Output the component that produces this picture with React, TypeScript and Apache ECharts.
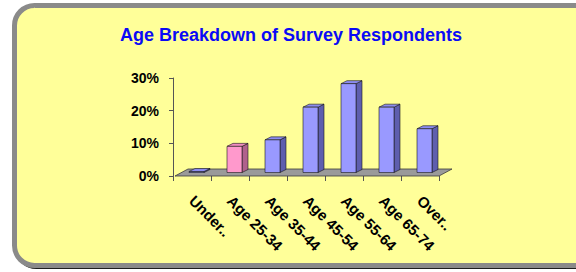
import React, { useEffect, useRef } from "react";
import * as echarts from "echarts";

const titleText = "Age Breakdown of Survey Respondents";
const categories = ["Under..", "Age 25-34", "Age 35-44", "Age 45-54", "Age 55-64", "Age 65-74", "Over.."];
const shares = [0.003, 0.08, 0.1, 0.2, 0.272, 0.2, 0.134];
const highlightCategory = "Age 25-34";
const yTicks = [0, 0.1, 0.2, 0.3];

const FRONT_BLUE = "#9999FF";
const SIDE_BLUE = "#5E5EAE";
const TOP_BLUE = "#8C8CF0";
const FRONT_PINK = "#FF99CC";
const SIDE_PINK = "#B0618C";
const TOP_PINK = "#F08CC0";

export default function App() {
  const ref = useRef<HTMLDivElement>(null);

  useEffect(() => {
    if (!ref.current) return;
    const chart = echarts.init(ref.current, null, { renderer: "svg" });

    const floorItem = (params: any, api: any) => {
      const n = categories.length;
      const band = api.size([1, 0])[0];
      const left = api.coord([0, 0]);
      const right = api.coord([n - 1, 0]);
      const x0 = left[0] - band / 2 + 2;
      const x1 = right[0] + band / 2;
      const y = left[1];
      const dx = 13;
      const dy = -7;
      return {
        type: "polygon",
        shape: {
          points: [
            [x0, y],
            [x0 + dx, y + dy],
            [x1 + dx, y + dy],
            [x1, y],
          ],
        },
        style: { fill: "#9A9A9A", stroke: "#3A3A3A", lineWidth: 0.8 },
      };
    };

    const barItem = (params: any, api: any) => {
      const idx = api.value(0);
      const val = api.value(1);
      const top = api.coord([idx, val]);
      const base = api.coord([idx, 0]);
      const w = 15;
      const cx = top[0] + 4.5;
      const oy = -3.5;
      const ty = top[1] + oy;
      const by = base[1] + oy;
      const dx = 6;
      const dy = -3;
      const hl = categories[idx] === highlightCategory;
      const front = hl ? FRONT_PINK : FRONT_BLUE;
      const side = hl ? SIDE_PINK : SIDE_BLUE;
      const topc = hl ? TOP_PINK : TOP_BLUE;
      const l = cx - w / 2;
      const r = cx + w / 2;
      return {
        type: "group",
        children: [
          {
            type: "polygon",
            shape: { points: [[r, ty], [r + dx, ty + dy], [r + dx, by + dy], [r, by]] },
            style: { fill: side, stroke: "#1a1a1a", lineWidth: 0.6 },
          },
          {
            type: "polygon",
            shape: { points: [[l, ty], [l + dx, ty + dy], [r + dx, ty + dy], [r, ty]] },
            style: { fill: topc, stroke: "#1a1a1a", lineWidth: 0.6 },
          },
          {
            type: "rect",
            shape: { x: l, y: ty, width: w, height: by - ty },
            style: { fill: front, stroke: "#1a1a1a", lineWidth: 0.6 },
          },
        ],
      };
    };

    chart.setOption({
      animation: false,
      title: {
        text: titleText,
        left: 286,
        textAlign: "center",
        top: 21,
        textStyle: {
          fontFamily: "Liberation Sans, Arial, sans-serif",
          fontWeight: "bold",
          fontSize: 18,
          color: "#0A0AF5",
        },
      },
      graphic: [
        {
          type: "rect",
          z: -20,
          shape: { x: 16.5, y: 7.5, width: 580, height: 260, r: 20 },
          style: { fill: "none", stroke: "#1e1e1e", lineWidth: 3 },
        },
        {
          type: "rect",
          z: -10,
          shape: { x: 14.5, y: 5.5, width: 580, height: 260, r: 20 },
          style: { fill: "#FFFF99", stroke: "#8A8A8A", lineWidth: 5 },
        },
      ],
      grid: { left: 173, right: 137, top: 78, bottom: 96, containLabel: false },
      xAxis: {
        type: "category",
        data: categories,
        axisLine: { show: false },
        axisTick: { show: true, length: 5, lineStyle: { color: "#555" } },
        axisLabel: {
          rotate: -45,
          margin: 22,
          interval: 0,
          fontFamily: "Liberation Sans, Arial, sans-serif",
          fontWeight: "bold",
          fontSize: 15,
          color: "#000",
        },
      },
      yAxis: {
        type: "value",
        min: yTicks[0],
        max: yTicks[yTicks.length - 1],
        interval: 0.1,
        axisLine: { show: true, lineStyle: { color: "#555", width: 1 } },
        axisTick: { show: true, length: 4, lineStyle: { color: "#555" } },
        splitLine: { show: false },
        axisLabel: {
          margin: 14,
          formatter: (v: number) => Math.round(v * 100) + "%",
          fontFamily: "Liberation Sans, Arial, sans-serif",
          fontWeight: "bold",
          fontSize: 14,
          color: "#000",
        },
      },
      series: [
        {
          type: "custom",
          renderItem: floorItem,
          data: [[0, 0]],
          z: 1,
          silent: true,
        },
        {
          type: "custom",
          renderItem: barItem,
          data: shares.map((v, i) => [i, v]),
          z: 3,
        },
      ],
    });

    return () => chart.dispose();
  }, []);

  return (
    <div
      ref={ref}
      style={{ position: "fixed", left: 0, top: 0, width: 576, height: 272, background: "#fff" }}
    />
  );
}
